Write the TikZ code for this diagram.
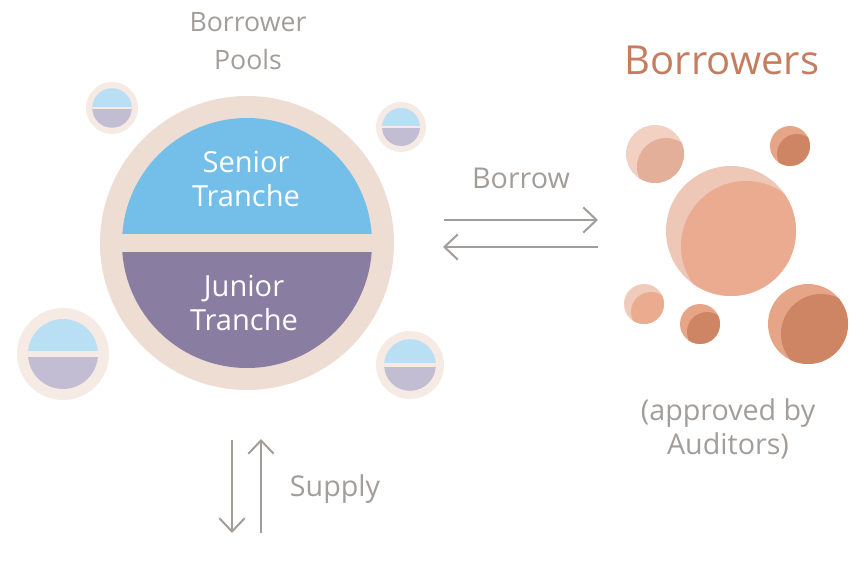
\documentclass[tikz,border=0pt]{standalone}
\usepackage{fontspec}
\setmainfont{Open Sans}
\usetikzlibrary{arrows.meta}
\definecolor{gris}{HTML}{A29D99}
\definecolor{terracota}{HTML}{C47E5F}
\definecolor{anillo}{HTML}{EEDDD3}
\definecolor{anilloclaro}{HTML}{F5EAE4}
\definecolor{azul}{HTML}{74BFEA}
\definecolor{morado}{HTML}{897DA2}
\definecolor{azulclaro}{HTML}{B9DFF4}
\definecolor{moradoclaro}{HTML}{C2BDD2}
\definecolor{bcA}{HTML}{F2D1C3}
\definecolor{bdA}{HTML}{E3AF99}
\definecolor{bcB}{HTML}{EEC7B6}
\definecolor{bdB}{HTML}{EAAB90}
\definecolor{bcC}{HTML}{E7A587}
\definecolor{bdC}{HTML}{CE8564}
\definecolor{bcD}{HTML}{EFCBBB}
\definecolor{bdD}{HTML}{EAAB8F}
\tikzset{
  etiqueta/.style={text=gris, font=\fontsize{21.5}{25.5}\selectfont, align=center},
  tranche/.style={text=white, font=\fontsize{21.8}{25.5}\selectfont, align=center},
  flecha/.style={draw=gris, line width=1.5pt,
    -{Straight Barb[length=10pt,width=19pt,line width=1.5pt]}},
}
\begin{document}
\begin{tikzpicture}[x=0.75pt, y=-0.75pt]
        \useasboundingbox (0,0) rectangle (866,580);
        % Pools pequeños
        \foreach \x/\y/\R/\n in {112/108/26/p1, 401/127/25/p2, 63/354/46/p3, 410/365/34/p4} {
            \fill[anilloclaro] (\x,\y) circle (\R);
            \begin{scope}
                \clip (\x,\y) circle ({0.76*\R});
                \fill[azulclaro] (\x-\R,\y-\R) rectangle (\x+\R,\y);
                \fill[moradoclaro] (\x-\R,\y) rectangle (\x+\R,\y+\R);
                \fill[anilloclaro] (\x-\R,\y-0.055*\R) rectangle (\x+\R,\y+0.055*\R);
            \end{scope}
            \coordinate (\n) at (\x,\y);
        }
        % Pool principal
        \fill[anillo] (247,243) circle (147);
        \begin{scope}
            \clip (247,243) circle (125);
            \fill[azul] (100,100) rectangle (400,234);
            \fill[morado] (100,252) rectangle (400,400);
        \end{scope}
        \node[tranche] (senior) at (246,179) {Senior\\Tranche};
        \node[tranche] (junior) at (244,303) {Junior\\Tranche};
        \node[etiqueta, font=\fontsize{20}{28.5}\selectfont] (pools) at (248,41) {Borrower\\Pools};
        % Borrowers
        \foreach \x/\y/\r/\dx/\dy/\cl/\cd in {655/154/29/11/13/bcA/bdA, 731/231/65/15/15/bcB/bdB,
            790/146/20/7/8/bcC/bdC, 644/304/20/7/8/bcD/bdD, 700/324/20/7/8/bcC/bdC,
            808/324/40/13/10/bcC/bdC} {
            \fill[\cl] (\x,\y) circle (\r);
            \begin{scope}
                \clip (\x,\y) circle (\r);
                \fill[\cd] (\x+\dx,\y+\dy) circle (\r);
            \end{scope}
        }
        \node[text=terracota, font=\fontsize{30}{34}\selectfont] (borrowers) at (722,60) {Borrowers};
        \node[etiqueta] (auditors) at (728,429) {(approved by\\Auditors)};
        % Flechas
        \coordinate (b1) at (444,220);
        \coordinate (b2) at (598,220);
        \coordinate (b3) at (598,247);
        \coordinate (b4) at (443,247);
        \draw[flecha] (b1) -- (b2);
        \draw[flecha] (b3) -- (b4);
        \node[etiqueta] (borrow) at (521,178) {Borrow};
        \coordinate (s1) at (232,440);
        \coordinate (s2) at (232,533);
        \coordinate (s3) at (261,533);
        \coordinate (s4) at (261,439);
        \draw[flecha] (s1) -- (s2);
        \draw[flecha] (s3) -- (s4);
        \node[etiqueta] (supply) at (335,489) {Supply};
\end{tikzpicture}
\end{document}
